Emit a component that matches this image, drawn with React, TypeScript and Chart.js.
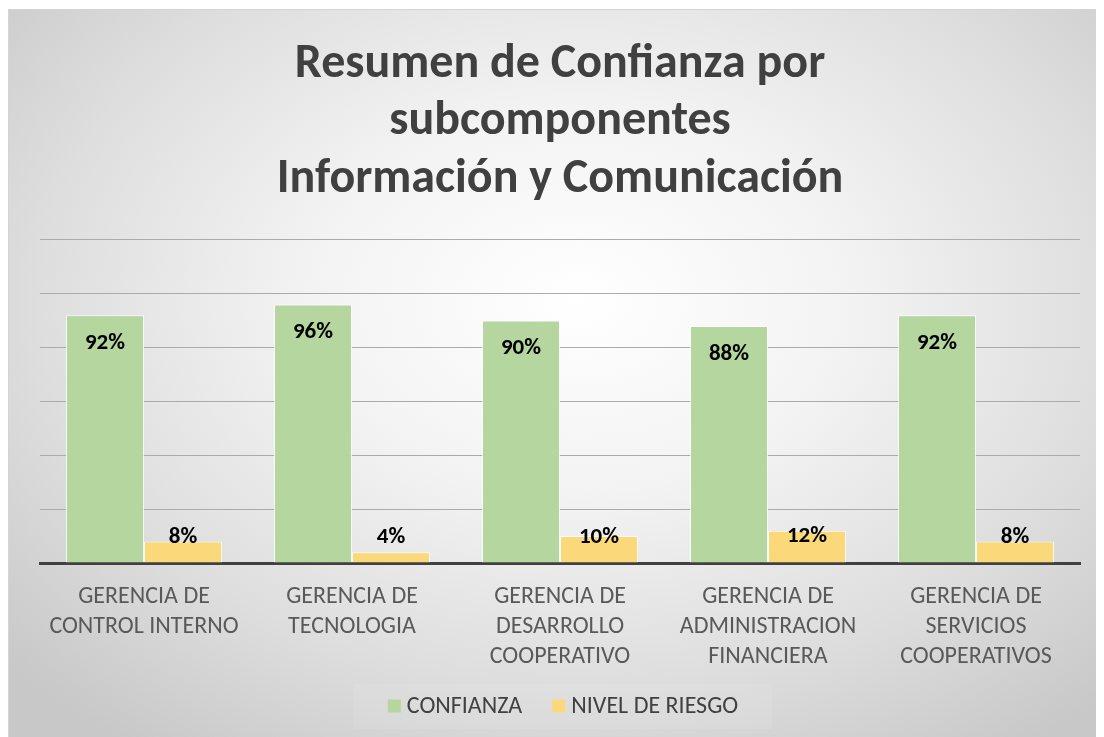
import React, { useEffect, useRef } from "react";
import { Chart, registerables } from "chart.js";

Chart.register(...registerables);

const categories: string[][] = [
  ["GERENCIA DE", "CONTROL INTERNO"],
  ["GERENCIA DE", "TECNOLOGIA"],
  ["GERENCIA DE", "DESARROLLO", "COOPERATIVO"],
  ["GERENCIA DE", "ADMINISTRACION", "FINANCIERA"],
  ["GERENCIA DE", "SERVICIOS", "COOPERATIVOS"],
];
const confianza = [92, 96, 90, 88, 92];
const nivelRiesgo = [8, 4, 10, 12, 8];
const titleLines = ["Resumen de Confianza por", "subcomponentes", "Información y Comunicación"];
const seriesNames = ["CONFIANZA", "NIVEL DE RIESGO"];
const seriesColors = ["#b5d69e", "#fbd97b"];

const FONT = "Carlito, Calibri, Lato, 'Open Sans', sans-serif";

const labelPlugin = {
  id: "barLabels",
  afterDatasetsDraw(chart: any) {
    const ctx = chart.ctx;
    const base = chart.scales.y.getPixelForValue(0);
    ctx.save();
    ctx.font = `bold 23px ${FONT}`;
    ctx.fillStyle = "#000000";
    ctx.textAlign = "center";
    ctx.textBaseline = "middle";
    chart.data.datasets.forEach((ds: any, di: number) => {
      const meta = chart.getDatasetMeta(di);
      meta.data.forEach((bar: any, i: number) => {
        const v = ds.data[i];
        let y: number;
        if (di === 0) y = bar.y + 28;
        else y = Math.min(bar.y + 6, base - 26);
        ctx.fillText(v + "%", bar.x, y);
      });
    });
    ctx.restore();
  },
};

const legendPlugin = {
  id: "customLegend",
  afterDraw(chart: any) {
    const ctx = chart.ctx;
    const fontSize = 24;
    const box = 13;
    const gapBoxText = 6;
    const gapItems = 30;
    ctx.save();
    ctx.font = `${fontSize}px ${FONT}`;
    const widths = seriesNames.map((n) => box + gapBoxText + ctx.measureText(n).width);
    const total = widths.reduce((a, b) => a + b, 0) + gapItems * (widths.length - 1);
    const cx = (chart.chartArea.left + chart.chartArea.right) / 2 + 3;
    const cy = chart.height - 31;
    let x = cx - total / 2;
    ctx.fillStyle = "rgba(255,255,255,0.08)";
    ctx.fillRect(x - 34, cy - 22, total + 68, 45);
    ctx.textBaseline = "middle";
    ctx.textAlign = "left";
    seriesNames.forEach((n, i) => {
      ctx.fillStyle = seriesColors[i];
      ctx.fillRect(x, cy - box / 2, box, box);
      ctx.fillStyle = "#404040";
      ctx.fillText(n, x + box + gapBoxText, cy + 1);
      x += widths[i] + gapItems;
    });
    ctx.restore();
  },
};

export default function App() {
  const ref = useRef<HTMLCanvasElement>(null);
  useEffect(() => {
    if (!ref.current) return;
    const chart = new Chart(ref.current, {
      type: "bar",
      data: {
        labels: categories,
        datasets: [
          {
            label: seriesNames[0],
            data: confianza,
            backgroundColor: seriesColors[0],
            borderColor: "rgba(255,255,255,0.75)",
            borderWidth: 1,
            categoryPercentage: 0.75,
            barPercentage: 1.0,
          },
          {
            label: seriesNames[1],
            data: nivelRiesgo,
            backgroundColor: seriesColors[1],
            borderColor: "rgba(255,255,255,0.75)",
            borderWidth: 1,
            categoryPercentage: 0.75,
            barPercentage: 1.0,
          },
        ],
      },
      options: {
        animation: false,
        responsive: false,
        maintainAspectRatio: false,
        layout: { padding: { left: 31, right: 24, top: 0, bottom: 46 } },
        plugins: {
          title: {
            display: true,
            text: titleLines,
            color: "#404040",
            font: { family: FONT, size: 48, weight: "bold", lineHeight: 1.2 },
            padding: { top: 26, bottom: 31 },
          },
          legend: { display: false },
          tooltip: { enabled: false },
        },
        scales: {
          x: {
            grid: { display: false, drawTicks: false },
            border: { color: "#404040", width: 3 },
            ticks: {
              color: "#595959",
              font: { family: FONT, size: 24, lineHeight: 1.25 },
              padding: 19,
              maxRotation: 0,
              autoSkip: false,
            },
          },
          y: {
            min: 0,
            max: 120,
            ticks: { display: false, stepSize: 20 },
            border: { display: false },
            grid: { color: "#ababab", lineWidth: 1, drawTicks: false },
          },
        },
      },
      plugins: [labelPlugin, legendPlugin],
    });
    return () => chart.destroy();
  }, []);

  return (
    <div
      style={{
        marginTop: 1,
        width: 1096,
        height: 728,
        boxSizing: "border-box",
        borderLeft: "1px solid #d4d4d4",
        borderTop: "1px solid #d4d4d4",
        background:
          "radial-gradient(ellipse 70% 75% at 52% 40%, #ffffff 0%, #f3f3f3 35%, #dedede 70%, #c8c8c8 100%)",
      }}
    >
      <canvas ref={ref} width={1095} height={727} style={{ display: "block" }} />
    </div>
  );
}
